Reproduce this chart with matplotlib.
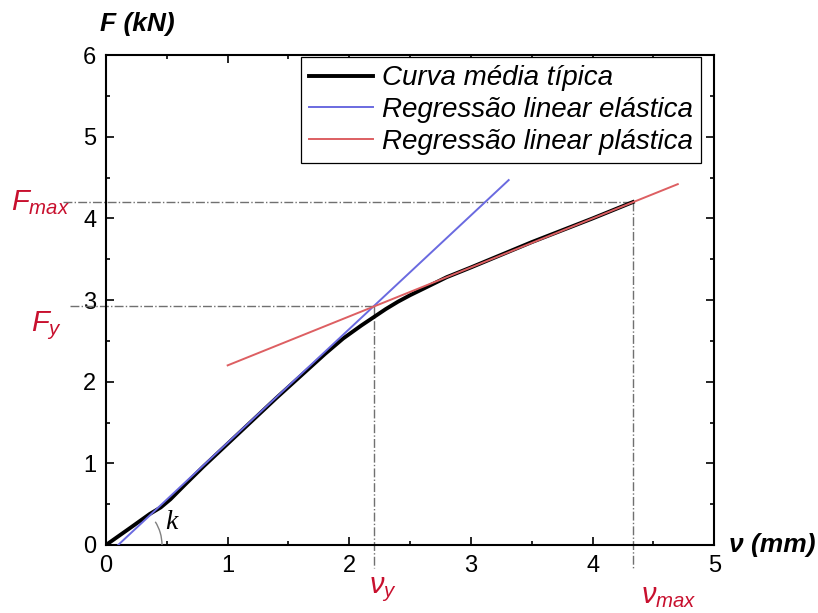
import matplotlib.pyplot as plt
from matplotlib.patches import Arc

plt.rcParams['font.family'] = ['Liberation Sans', 'DejaVu Sans']
plt.rcParams['mathtext.fontset'] = 'custom'
plt.rcParams['mathtext.it'] = 'Liberation Sans:italic'
plt.rcParams['mathtext.rm'] = 'Liberation Sans'

# Typical mean curve
curve_x = [0, 0.2, 0.36, 0.45, 0.53, 0.65, 0.8, 1.0, 1.2, 1.4, 1.6, 1.8, 1.95,
           2.1, 2.2, 2.3, 2.4, 2.5, 2.61, 2.8, 3.0, 3.5, 4.0, 4.33]
curve_y = [0, 0.21, 0.38, 0.46, 0.56, 0.74, 0.96, 1.24, 1.52, 1.80, 2.07, 2.34, 2.53,
           2.69, 2.79, 2.89, 2.98, 3.06, 3.14, 3.28, 3.40, 3.71, 4.00, 4.20]

# Regression lines (end points)
elastic_x = [0.10, 3.31]
elastic_y = [0.0, 4.47]
plastic_x = [1.0, 4.70]
plastic_y = [2.20, 4.42]

# Characteristic points
v_y, F_y = 2.20, 2.93
v_max, F_max = 4.33, 4.20

fig = plt.figure(figsize=(8.18, 6.13), dpi=100)
ax = fig.add_axes([0.1296, 0.111, 0.7436, 0.799])

ax.plot(curve_x, curve_y, color='black', lw=2.8, label='Curva média típica', zorder=3,
        solid_joinstyle='round')
ax.plot(elastic_x, elastic_y, color='#6a6ae0', lw=1.4, label='Regressão linear elástica', zorder=4)
ax.plot(plastic_x, plastic_y, color='#dd5f62', lw=1.4, label='Regressão linear plástica', zorder=4)

ref = dict(color='#707070', lw=1.0, ls='-.', clip_on=False, zorder=2)
ax.plot([-0.35, v_max], [F_max, F_max], **ref)
ax.plot([v_max, v_max], [F_max, -0.30], **ref)
ax.plot([-0.30, v_y], [F_y, F_y], **ref)
ax.plot([v_y, v_y], [F_y, -0.28], **ref)

# angle k
ax.add_patch(Arc((elastic_x[0], 0), 0.72, 1.07, theta1=0, theta2=43,
                 color='#808080', lw=1.0, zorder=5))
ax.text(0.49, 0.2, 'k', family='Liberation Serif', style='italic', fontsize=20)

red = '#c8102e'
ax.text(-0.78, F_max, r'$F_{max}$', color=red, fontsize=21, va='center', clip_on=False)
ax.text(-0.62, F_y - 0.25, r'$F_{y}$', color=red, fontsize=21, va='center', clip_on=False)
ax.text(v_y + 0.08, -0.55, r'$ν_{y}$', color=red, fontsize=21, ha='center', va='center', clip_on=False)
ax.text(v_max + 0.3, -0.62, r'$ν_{max}$', color=red, fontsize=21, ha='center', va='center', clip_on=False)

ax.set_xlim(0, 5)
ax.set_ylim(0, 6)
ax.set_xticks([0, 1, 2, 3, 4, 5])
ax.set_yticks([0, 1, 2, 3, 4, 5, 6])
ax.set_xticks([0.5, 1.5, 2.5, 3.5, 4.5], minor=True)
ax.set_yticks([0.5, 1.5, 2.5, 3.5, 4.5, 5.5], minor=True)
ax.tick_params(which='both', direction='in', top=True, right=True, labelsize=17, width=1.2)
ax.tick_params(which='major', length=6, pad=7)
ax.tick_params(which='minor', length=3)
for s in ax.spines.values():
    s.set_linewidth(1.5)

ax.text(-0.05, 6.3, 'F (kN)', fontsize=19, weight='bold', style='italic', clip_on=False)
ax.text(5.12, 0.0, 'ν (mm)', fontsize=19, weight='bold', style='italic', va='center', clip_on=False)

leg = ax.legend(loc='upper right', bbox_to_anchor=(0.978, 0.996), fontsize=20,
                handlelength=2.3, borderaxespad=0, fancybox=False, framealpha=1,
                borderpad=0.3, labelspacing=0.2, handletextpad=0.3)
leg.get_frame().set_edgecolor('black')
leg.get_frame().set_linewidth(0.9)
for t in leg.get_texts():
    t.set_style('italic')

plt.savefig('out.png', dpi=100)
